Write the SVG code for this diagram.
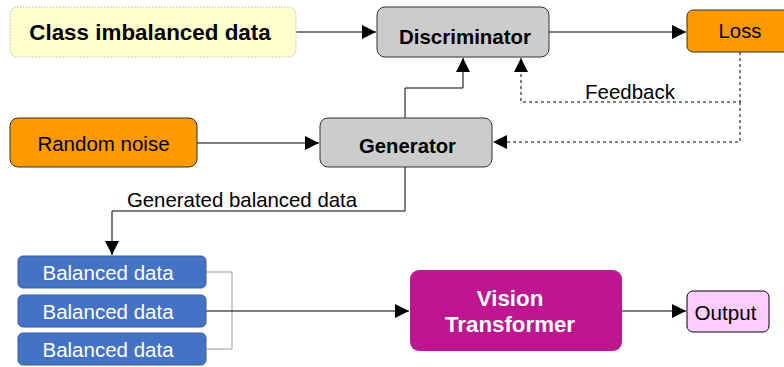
<svg xmlns="http://www.w3.org/2000/svg" width="784" height="367" viewBox="0 0 784 367">
<defs>
<marker id="ah" viewBox="0 0 10 10" refX="10" refY="5" markerWidth="14" markerHeight="14" markerUnits="userSpaceOnUse" orient="auto"><path d="M0,0 L10,5 L0,10 Z" fill="#000"/></marker>
</defs>
<style>
text{font-family:"Liberation Sans",Arial,sans-serif;text-anchor:middle;dominant-baseline:central}
.b{font-weight:bold}
.gray{fill:#cccccc;stroke:#333;stroke-width:1}
.orange{fill:#ff9900;stroke:#333;stroke-width:1}
.blue{fill:#4472c4;stroke:#3a5f9f;stroke-width:1}
.c{fill:none;stroke:#000;stroke-width:1}
.d{fill:none;stroke:#000;stroke-width:1;stroke-dasharray:3,3}
</style>
<rect width="784" height="367" fill="#fff"/>
<g id="connectors">
<path class="c" d="M296,32 H376" marker-end="url(#ah)"/>
<path class="c" d="M549,32 H686" marker-end="url(#ah)"/>
<path class="c" d="M197,143 H319" marker-end="url(#ah)"/>
<path class="c" d="M405,118 V88 H463 V58" marker-end="url(#ah)"/>
<path class="d" d="M740,52 V102 H521 V58" marker-end="url(#ah)"/>
<path class="d" d="M740,102 V142 H493" marker-end="url(#ah)"/>
<path class="c" d="M405,167 V211 H112 V255" marker-end="url(#ah)"/>
<path fill="none" stroke="#999" stroke-width="1" d="M206,272 H232 V349 H206"/>
<path class="c" d="M206,311 H409" marker-end="url(#ah)"/>
<path class="c" d="M622,311 H686" marker-end="url(#ah)"/>
<text x="630" y="91" font-size="20.5">Feedback</text>
<text x="242" y="200" font-size="20.4">Generated balanced data</text>
</g>
<g id="class-imbalanced">
<rect x="10" y="7" width="286" height="50" rx="7" fill="#ffffcc" stroke="#bbb" stroke-dasharray="1.5,1.5"/>
<text x="150" y="32" font-size="22.4" class="b">Class imbalanced data</text>
</g>
<g id="discriminator">
<rect class="gray" x="377" y="7" width="172" height="50" rx="8"/>
<text x="465" y="36" font-size="20.5" class="b">Discriminator</text>
</g>
<g id="loss">
<rect class="orange" x="687" y="10" width="105" height="42" rx="6"/>
<text x="740" y="31" font-size="20.4">Loss</text>
</g>
<g id="random-noise">
<rect class="orange" x="10" y="118" width="187" height="49" rx="8"/>
<text x="103.5" y="143" font-size="20.5">Random noise</text>
</g>
<g id="generator">
<rect class="gray" x="320" y="118" width="172" height="49" rx="8"/>
<text x="407.5" y="146" font-size="20.3" class="b">Generator</text>
</g>
<g id="balanced-1">
<rect class="blue" x="18" y="256" width="188" height="32" rx="5"/>
<text x="108" y="272" font-size="20.5" fill="#fff">Balanced data</text>
</g>
<g id="balanced-2">
<rect class="blue" x="18" y="295" width="188" height="32" rx="5"/>
<text x="108" y="311" font-size="20.5" fill="#fff">Balanced data</text>
</g>
<g id="balanced-3">
<rect class="blue" x="18" y="333" width="188" height="32" rx="5"/>
<text x="108" y="349" font-size="20.5" fill="#fff">Balanced data</text>
</g>
<g id="vision-transformer">
<rect x="410" y="270" width="212" height="81" rx="9" fill="#be1590"/>
<text x="510" y="298" font-size="22.3" class="b" fill="#fff">Vision</text>
<text x="510" y="324" font-size="22.3" class="b" fill="#fff">Transformer</text>
</g>
<g id="output">
<rect x="687" y="291" width="82" height="41" rx="6" fill="#ffccff" stroke="#000"/>
<text x="725.5" y="312" font-size="20.6">Output</text>
</g>
</svg>
